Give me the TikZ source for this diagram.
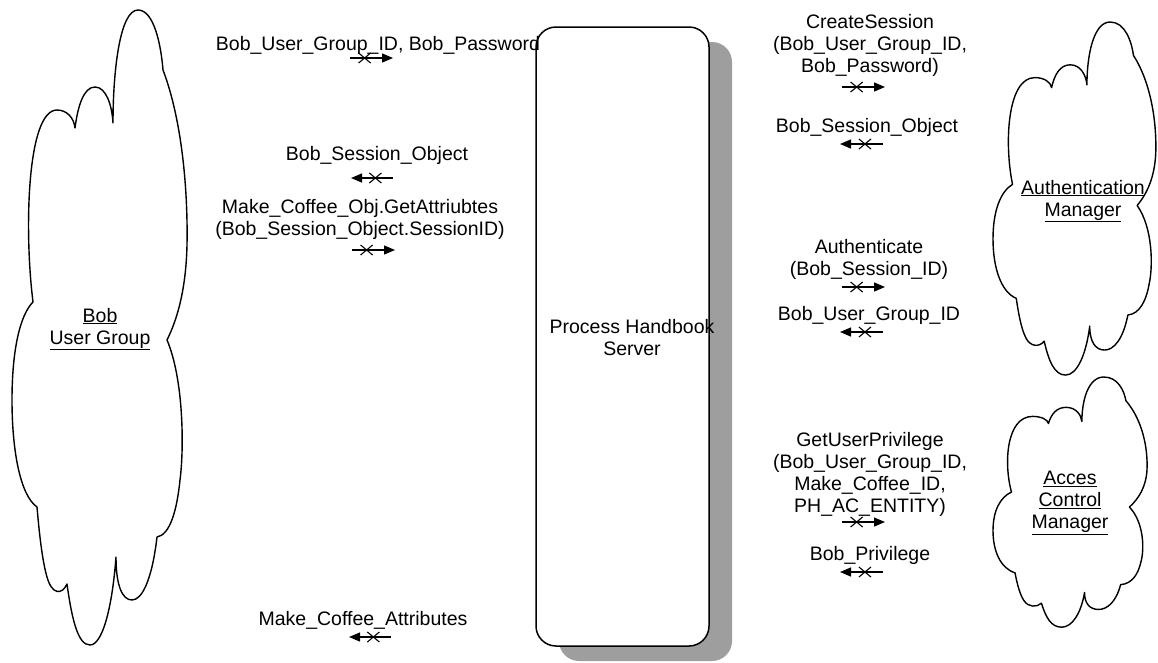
\documentclass[tikz,border=0pt]{standalone}
\usepackage{fontspec}
\setmainfont{Liberation Sans}
\usetikzlibrary{arrows.meta,shapes.misc,shadows}

% Outline of a cloud, drawn in a 175 x 635 box (y grows downwards)
\newcommand\cloudshape{%
  (21,292)
  .. controls (12,220) and (15,100) .. (45,100)
  .. controls (55,100) and (62,108) .. (63,118)
  .. controls (66,95) and (72,77) .. (83,77)
  .. controls (94,77) and (100,95) .. (101,113)
  .. controls (101,60) and (108,0) .. (126,0)
  .. controls (142,0) and (149,35) .. (151,60)
  .. controls (170,110) and (176,180) .. (175,235)
  .. controls (174,280) and (165,310) .. (155,330)
  .. controls (172,370) and (172,440) .. (168,470)
  .. controls (165,500) and (158,525) .. (145,527)
  .. controls (140,570) and (130,590) .. (120,590)
  .. controls (110,590) and (104,575) .. (104,547)
  .. controls (100,600) and (90,635) .. (78,635)
  .. controls (66,635) and (60,610) .. (55,574)
  .. controls (50,585) and (40,585) .. (35,567)
  .. controls (30,550) and (27,520) .. (25,497)
  .. controls (8,485) and (0,440) .. (0,390)
  .. controls (0,340) and (8,305) .. (21,292)
  -- cycle}

\begin{document}
\begin{tikzpicture}[x=1pt, y=-1pt,
  lbl/.style={font=\fontsize{19.5}{22}\selectfont, align=center, inner sep=0pt},
  msg/.style={line width=1.3pt, -{Triangle[length=11pt, width=9pt]}},
  xmark/.style={cross out, draw, line width=1.1pt, minimum width=11pt, minimum height=9pt, inner sep=0pt},
  cloudline/.style={line width=1.4pt, line join=round},
  server/.style={draw, line width=1.5pt, rounded corners=20pt, fill=white,
    minimum width=173pt, minimum height=619pt, inner sep=0pt,
    drop shadow={shadow xshift=23pt, shadow yshift=-15pt, fill=black!38, opacity=1}},
]
\useasboundingbox (0,0) rectangle (1158,662);

% clouds
\begin{scope}[shift={(12,10)}]
  \draw[cloudline] \cloudshape;
\end{scope}
\begin{scope}[shift={(993,22)}, xscale=0.93, yscale=0.556]
  \draw[cloudline] \cloudshape;
\end{scope}
\begin{scope}[shift={(993,377)}, xscale=0.88, yscale=0.394]
  \draw[cloudline] \cloudshape;
\end{scope}

\node[lbl] (bob) at (100,329) {\underline{Bob}\\\underline{User Group}};
\node[lbl] (auth) at (1083,201) {\underline{Authentication}\\\underline{Manager}};
\node[lbl] (acm) at (1070,503) {\underline{Acces}\\\underline{Control}\\\underline{Manager}};

% server
\node[server] (srv) at (622.5,336.5) {};
\node[lbl] (srvlbl) at (632,338) {Process Handbook\\Server};

% messages on the client side
\node[lbl] (l1) at (378,45) {Bob\_User\_Group\_ID, Bob\_Password};
\node[lbl] (l2) at (377,155) {Bob\_Session\_Object};
\node[lbl] (l3) at (360,219) {Make\_Coffee\_Obj.GetAttriubtes\\(Bob\_Session\_Object.SessionID)};
\node[lbl] (l4) at (363,620) {Make\_Coffee\_Attributes};

% messages on the manager side
\node[lbl] (r1) at (870,45) {CreateSession\\(Bob\_User\_Group\_ID,\\Bob\_Password)};
\node[lbl] (r2) at (867,127) {Bob\_Session\_Object};
\node[lbl] (r3) at (869,259) {Authenticate\\(Bob\_Session\_ID)};
\node[lbl] (r4) at (869,315) {Bob\_User\_Group\_ID};
\node[lbl] (r5) at (870,474) {GetUserPrivilege\\(Bob\_User\_Group\_ID,\\Make\_Coffee\_ID,\\PH\_AC\_ENTITY)};
\node[lbl] (r6) at (870,555) {Bob\_Privilege};

% arrow end points
\coordinate (a1t) at (350,58);  \coordinate (a1h) at (393,58);
\coordinate (a2t) at (393,178); \coordinate (a2h) at (351,178);
\coordinate (a3t) at (352,250); \coordinate (a3h) at (395,250);
\coordinate (a4t) at (391,637); \coordinate (a4h) at (349,637);
\coordinate (b1t) at (842,87);  \coordinate (b1h) at (885,87);
\coordinate (b2t) at (883,144); \coordinate (b2h) at (840,144);
\coordinate (b3t) at (842,287); \coordinate (b3h) at (885,287);
\coordinate (b4t) at (883,332); \coordinate (b4h) at (840,332);
\coordinate (b5t) at (842,522); \coordinate (b5h) at (885,522);
\coordinate (b6t) at (883,572); \coordinate (b6h) at (840,572);

\foreach \t/\h in {a1t/a1h, a3t/a3h, b1t/b1h, b3t/b3h, b5t/b5h}
  \draw[msg] (\t) -- node[xmark, pos=0.34] {} (\h);
\foreach \t/\h in {a2t/a2h, a4t/a4h, b2t/b2h, b4t/b4h, b6t/b6h}
  \draw[msg] (\t) -- node[xmark, pos=0.42] {} (\h);
\end{tikzpicture}
\end{document}
